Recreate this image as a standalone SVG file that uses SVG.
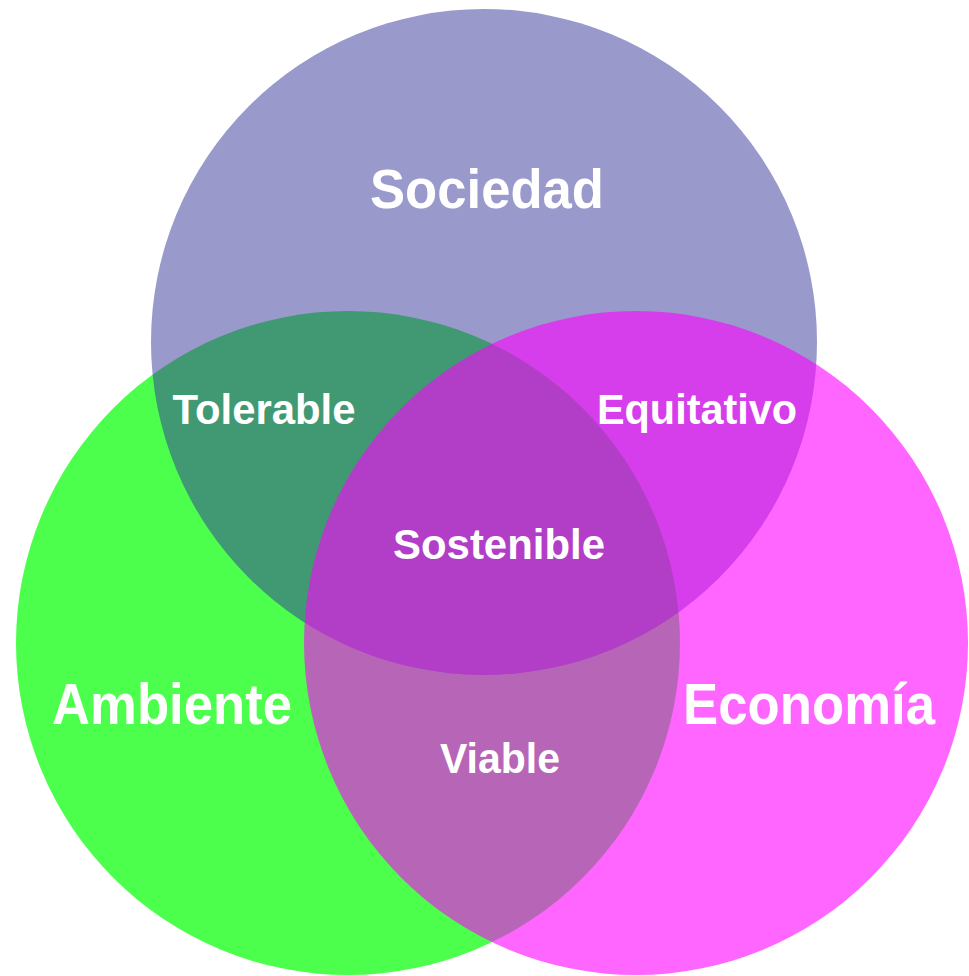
<svg xmlns="http://www.w3.org/2000/svg" width="969" height="976" viewBox="0 0 969 976">
<style>
.lbl{font-family:"Liberation Sans",Arial,sans-serif;font-weight:bold;fill:#ffffff;text-anchor:middle}
.big{font-size:56px}
.sm{font-size:42px}
</style>
<rect width="969" height="976" fill="#ffffff"/>
<g id="ambiente"><circle cx="348" cy="643" r="332" fill="#00ff00" fill-opacity="0.7"/></g>
<g id="sociedad"><circle cx="484" cy="342" r="333" fill="#333399" fill-opacity="0.5"/></g>
<g id="economia"><circle cx="636" cy="643" r="332" fill="#ff00ff" fill-opacity="0.6"/></g>
<g id="connectors"></g>
<g id="labels">
<text class="lbl big" x="487" y="208" textLength="234" lengthAdjust="spacingAndGlyphs">Sociedad</text>
<text class="lbl big" x="172" y="724" textLength="240" lengthAdjust="spacingAndGlyphs" style="font-size:57px">Ambiente</text>
<text class="lbl big" x="809" y="724" textLength="252" lengthAdjust="spacingAndGlyphs" style="font-size:57px">Economía</text>
<text class="lbl sm" x="264" y="424" textLength="183" lengthAdjust="spacingAndGlyphs">Tolerable</text>
<text class="lbl sm" x="697" y="424" textLength="200" lengthAdjust="spacingAndGlyphs">Equitativo</text>
<text class="lbl sm" x="499" y="559" textLength="212" lengthAdjust="spacingAndGlyphs">Sostenible</text>
<text class="lbl sm" x="500" y="773" textLength="120" lengthAdjust="spacingAndGlyphs">Viable</text>
</g>
</svg>
